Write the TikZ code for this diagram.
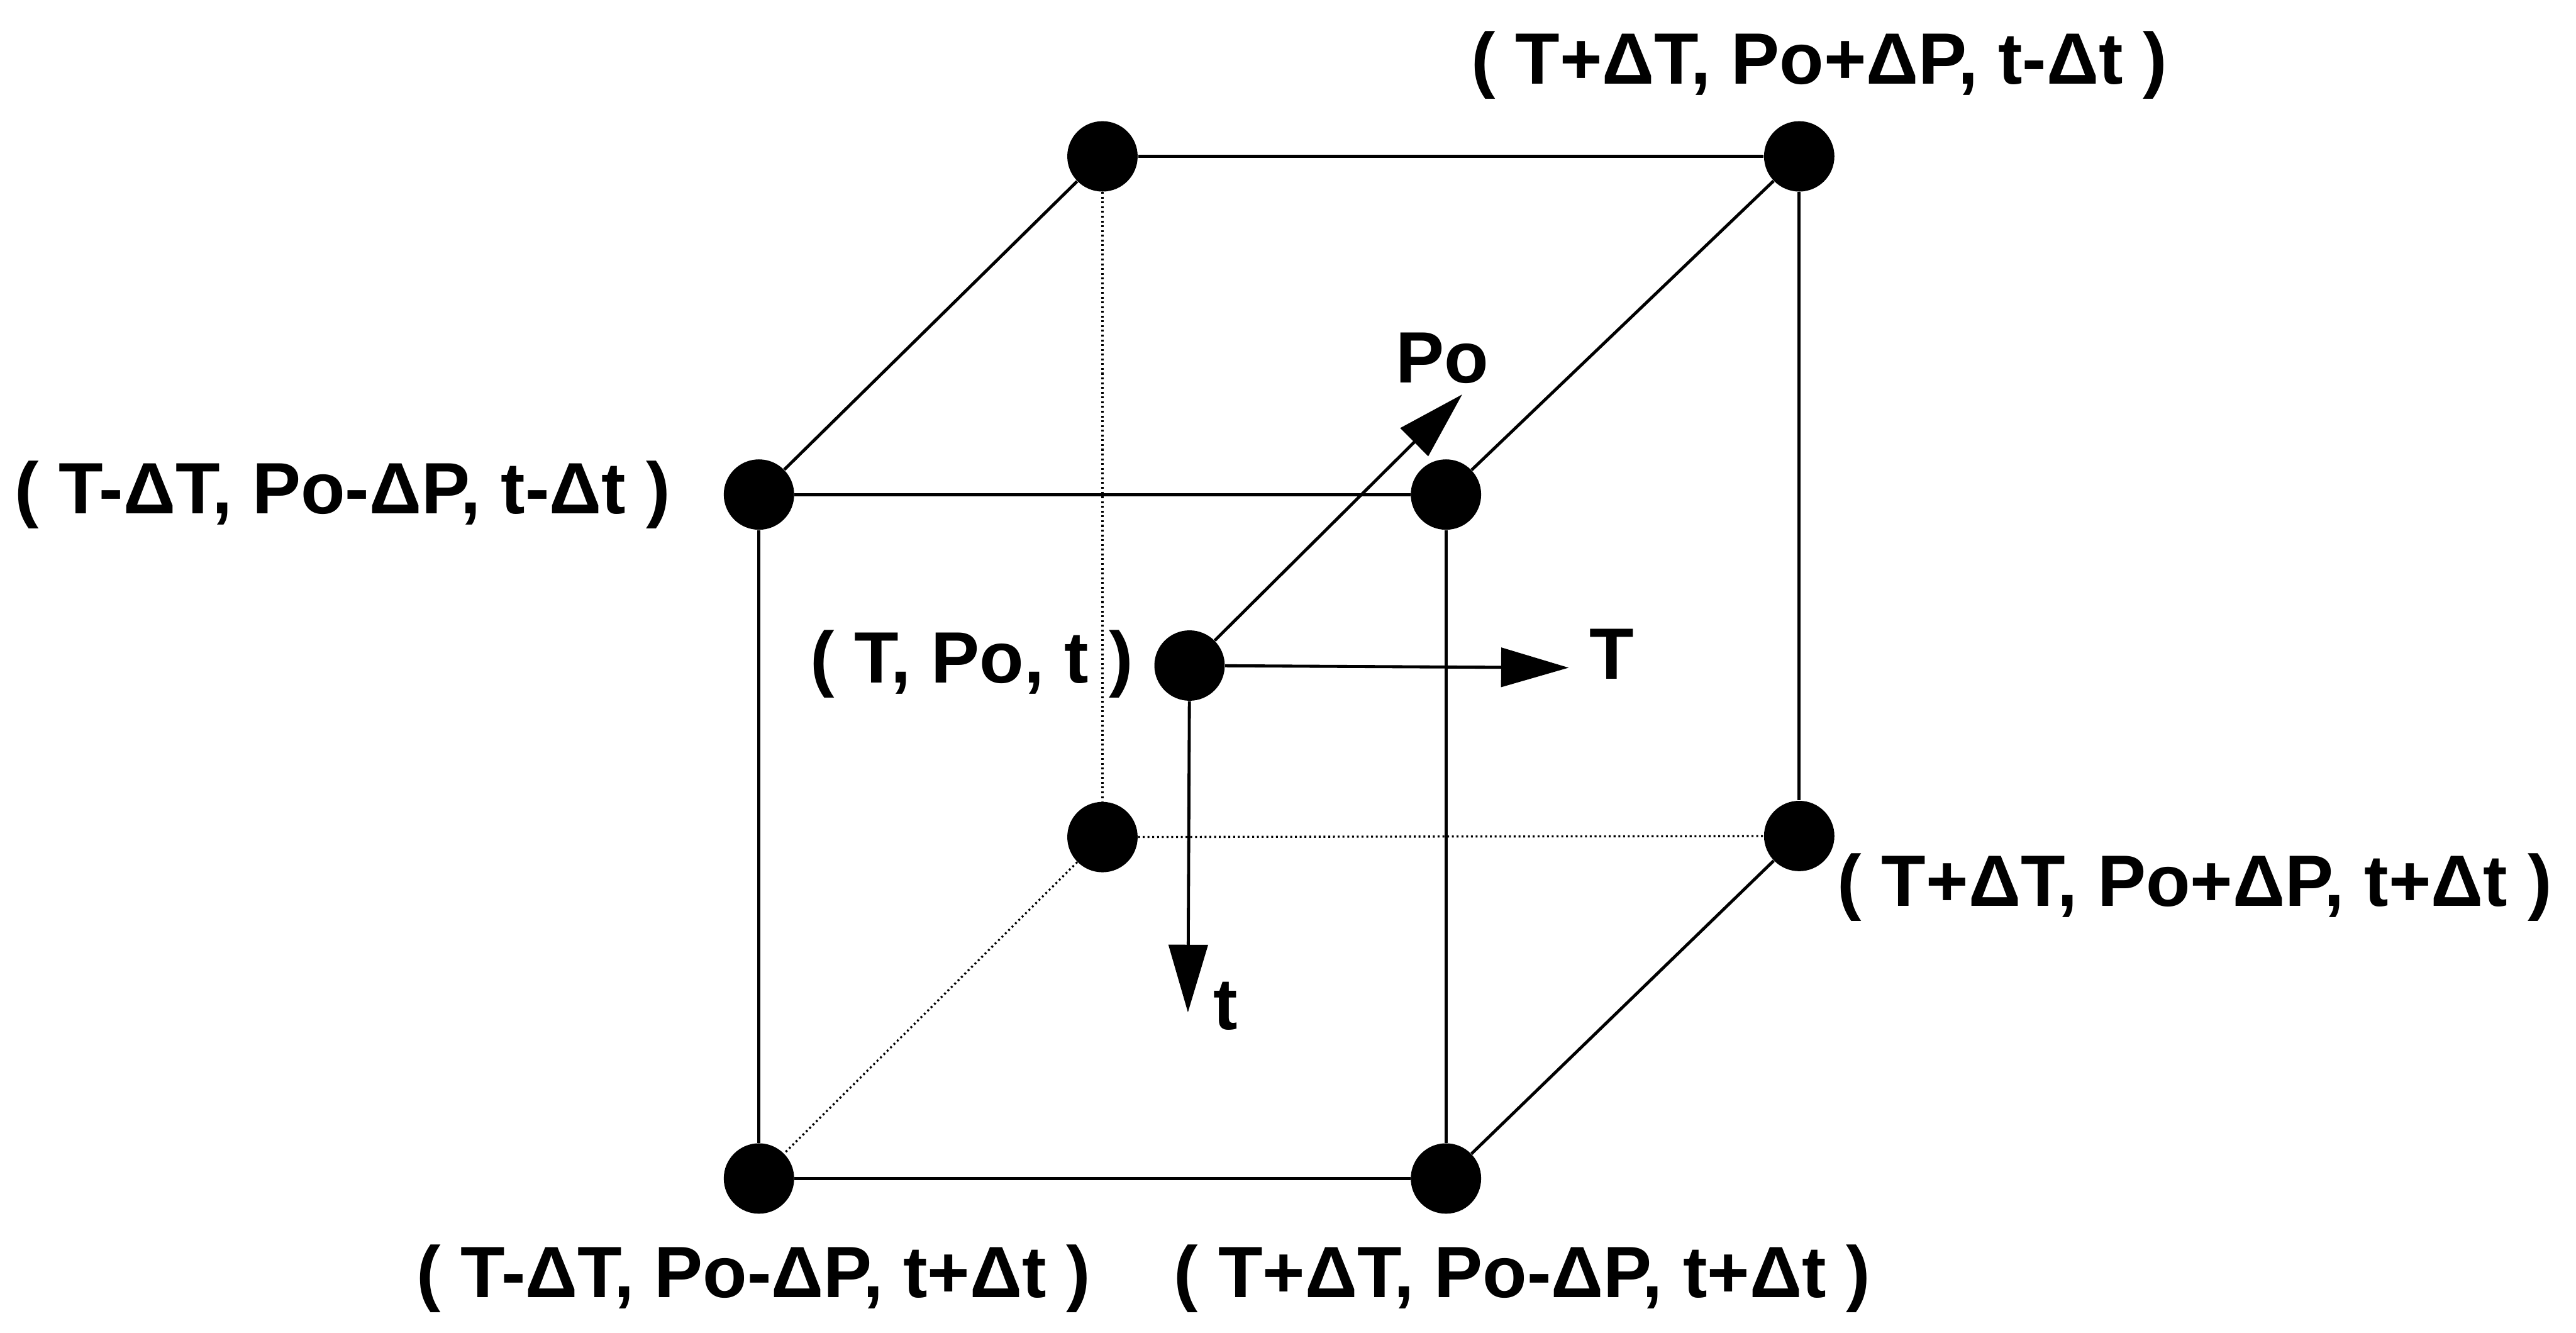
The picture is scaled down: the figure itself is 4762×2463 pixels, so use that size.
\documentclass[tikz,border=0pt]{standalone}
\usepackage{fontspec}
\setmainfont{Liberation Sans}
\usetikzlibrary{arrows.meta}
\begin{document}
\begin{tikzpicture}[x=0.01cm,y=-0.01cm,
  dot/.style={circle,fill=black,inner sep=0pt,minimum size=1.3cm},
  edge/.style={line width=1.6pt},
  hidden/.style={line width=1.1pt,dash pattern=on 1pt off 1.5pt},
  axis/.style={line width=1.6pt,-{Triangle[length=1.25cm,width=0.72cm]}},
  lbl/.style={font=\fontsize{38.2}{44}\selectfont\bfseries,inner sep=0pt}]
\useasboundingbox (0,0) rectangle (4762,2463);
% vertices
\node[dot] (FTL) at (1403,914) {};
\node[dot] (FTR) at (2673,914) {};
\node[dot] (FBL) at (1403,2178) {};
\node[dot] (FBR) at (2673,2178) {};
\node[dot] (BTL) at (2038,289) {};
\node[dot] (BTR) at (3326,289) {};
\node[dot] (BBL) at (2038,1547) {};
\node[dot] (BBR) at (3326,1545) {};
\node[dot] (C) at (2199,1230) {};
% hidden edges
\draw[hidden] (BTL) -- (BBL);
\draw[hidden] (BBL) -- (BBR);
\draw[hidden] (BBL) -- (FBL);
% visible edges
\draw[edge] (BTL) -- (BTR);
\draw[edge] (BTL) -- (FTL);
\draw[edge] (BTR) -- (FTR);
\draw[edge] (BTR) -- (BBR);
\draw[edge] (FTL) -- (FTR);
\draw[edge] (FTL) -- (FBL);
\draw[edge] (FTR) -- (FBR);
\draw[edge] (FBL) -- (FBR);
\draw[edge] (FBR) -- (BBR);
% axes
\coordinate (Ttip) at (2900,1234);
\coordinate (ttip) at (2196,1871);
\coordinate (Ptip) at (2703,729);
\draw[axis] (C) -- (Ttip);
\draw[axis] (C) -- (ttip);
\draw[axis] (C) -- (Ptip);
\node[lbl] (Tl) at (2979,1209) {T};
\node[lbl] (tl) at (2266,1859) {t};
\node[lbl] (Pl) at (2666,662) {Po};
% labels
\node[lbl] (L1) at (633,914) {( T-ΔT, Po-ΔP, t-Δt )};
\node[lbl] (L2) at (3363,121) {( T+ΔT, Po+ΔP, t-Δt )};
\node[lbl] (L3) at (1796,1227) {( T, Po, t )};
\node[lbl] (L4) at (4057,1640) {( T+ΔT, Po+ΔP, t+Δt )};
\node[lbl] (L5) at (1393,2363) {( T-ΔT, Po-ΔP, t+Δt )};
\node[lbl] (L6) at (2814,2363) {( T+ΔT, Po-ΔP, t+Δt )};
\end{tikzpicture}
\end{document}
